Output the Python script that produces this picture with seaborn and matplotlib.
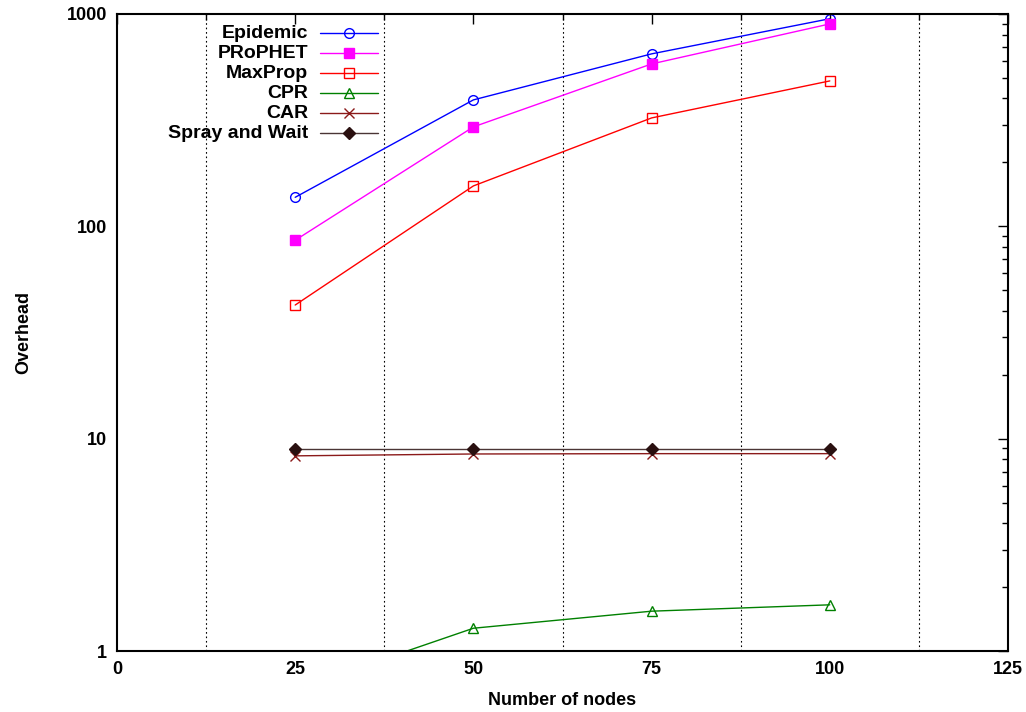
import matplotlib
matplotlib.use("Agg")
import matplotlib.pyplot as plt
import seaborn as sns
import numpy as np
from matplotlib.ticker import FixedLocator, LogLocator, NullFormatter, FixedFormatter
from matplotlib.lines import Line2D

nodes = [25, 50, 75, 100]
epidemic = [137, 394, 649, 950]
prophet = [86, 294, 582, 898]
maxprop = [42.6, 155, 324, 484]
cpr = [0.66, 1.28, 1.54, 1.65]
car = [8.3, 8.47, 8.5, 8.5]
spray = [8.94, 8.94, 8.94, 8.94]

labels = ["Epidemic", "PRoPHET", "MaxProp", "CPR", "CAR", "Spray and Wait"]
values = [epidemic, prophet, maxprop, cpr, car, spray]
colors = ["#0000ff", "#ff00ff", "#ff0000", "#008000", "#8b1a1a", "#4a3535"]
markers = ["o", "s", "s", "^", "x", "D"]
facecols = ["none", "#ff00ff", "none", "none", None, "#2a1010"]
edgecols = ["#0000ff", "#ff00ff", "#ff0000", "#008000", "#8b1a1a", "#2a1010"]

sns.set_theme(style="white")
plt.rcParams['font.family'] = ['Liberation Sans', 'DejaVu Sans']
plt.rcParams['font.weight'] = 'bold'

fig = plt.figure(figsize=(10.26, 7.12), dpi=100)
ax = fig.add_axes([117/1026, 1-651/712, (1008-117)/1026, (651-14)/712])

for name, vals, col, mk, fc, ec in zip(labels, values, colors, markers, facecols, edgecols):
    kw = dict(color=col, marker=mk, markersize=7 if mk != "D" else 6,
              linewidth=1.0, ax=ax, markeredgecolor=ec, markeredgewidth=1.0)
    if fc is not None:
        kw['markerfacecolor'] = fc
    sns.lineplot(x=nodes, y=vals, **kw)

ax.set_yscale('log')
ax.set_xlim(0, 125)
ax.set_ylim(1, 1000)

ax.xaxis.set_major_locator(FixedLocator([0, 25, 50, 75, 100, 125]))
ax.xaxis.set_minor_locator(FixedLocator([12.5, 37.5, 62.5, 87.5, 112.5]))
ax.yaxis.set_major_locator(FixedLocator([1, 10, 100, 1000]))
ax.yaxis.set_major_formatter(FixedFormatter(["1", "10", "100", "1000"]))
ax.yaxis.set_minor_locator(LogLocator(base=10, subs=np.arange(2, 10)))
ax.yaxis.set_minor_formatter(NullFormatter())

ax.grid(False)
ax.grid(True, which='minor', axis='x', color='black', linestyle=(0, (1.5, 2.5)), linewidth=0.8)

ax.tick_params(axis='both', which='major', direction='in', length=7, width=1.0,
               top=True, right=True, labelsize=13, colors='black', pad=7)
ax.tick_params(axis='both', which='minor', direction='in', length=4, width=1.0,
               top=True, right=True, colors='black')
for t in ax.get_xticklabels() + ax.get_yticklabels():
    t.set_fontweight('bold')

for s in ax.spines.values():
    s.set_color('black')
    s.set_linewidth(1.5)

ax.set_xlabel("Number of nodes", fontsize=13, fontweight='bold', labelpad=10, color='black')
ax.set_ylabel("Overhead", fontsize=13, fontweight='bold', labelpad=25, color='black')

# legend: labels right-aligned, sample line to the right
def fx(px):
    return (px - 117) / 891

def fy(py):
    return (651 - py) / 637

for i, (name, col, mk, fc, ec) in enumerate(zip(labels, colors, markers, facecols, edgecols)):
    py = 33 + 20 * i
    ax.text(fx(308), fy(py), name, transform=ax.transAxes, ha='right', va='center',
            fontsize=14, fontweight='bold', color='black')
    ax.add_line(Line2D([fx(320), fx(378)], [fy(py), fy(py)], transform=ax.transAxes,
                       color=col, linewidth=1.0))
    mkw = dict(marker=mk, markersize=7 if mk != "D" else 6, markeredgecolor=ec,
               markeredgewidth=1.0, color=col, linestyle='none')
    if fc is not None:
        mkw['markerfacecolor'] = fc
    ax.add_line(Line2D([fx(349)], [fy(py)], transform=ax.transAxes, **mkw))

fig.savefig("out.png", dpi=100)
